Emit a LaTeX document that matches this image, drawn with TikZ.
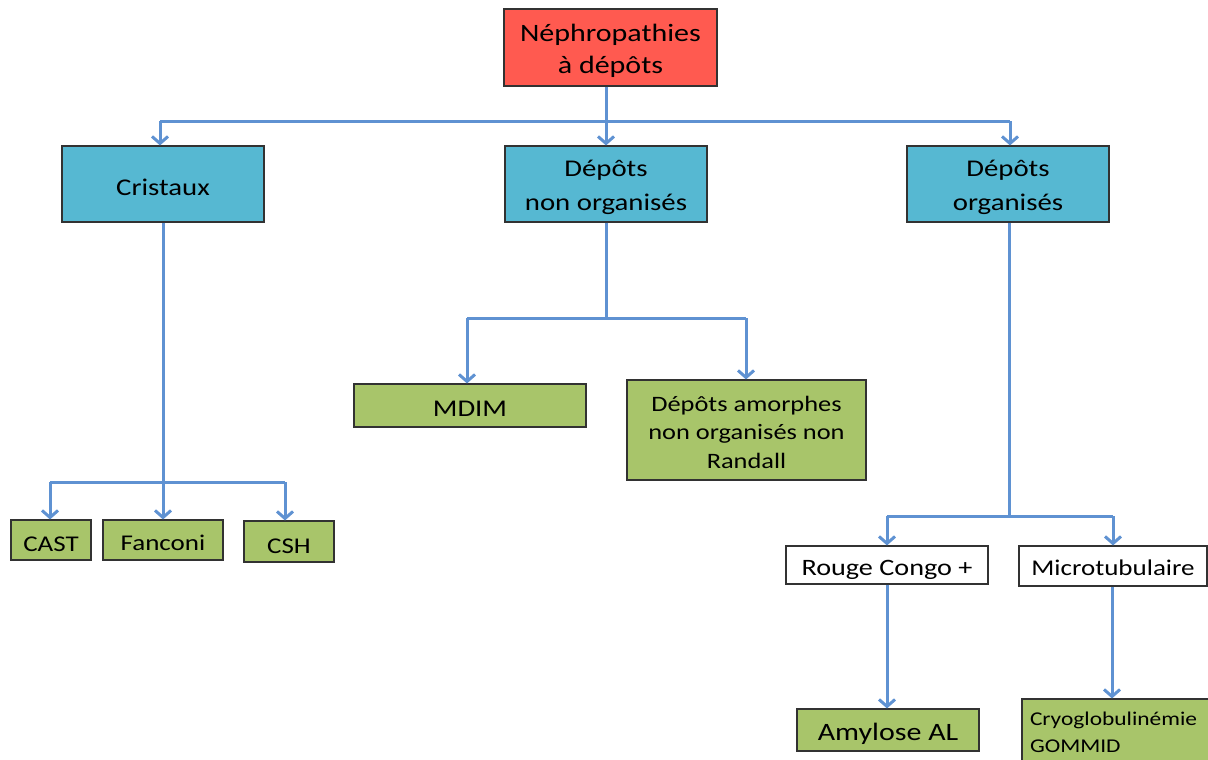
\documentclass[tikz,border=0pt]{standalone}
\usepackage{fontspec}
\setmainfont{Carlito}[FakeStretch=1.2]
\usetikzlibrary{arrows.meta}
\definecolor{lnblue}{RGB}{95,146,210}
\definecolor{rootred}{RGB}{255,90,80}
\definecolor{cyanbox}{RGB}{86,184,210}
\definecolor{greenbox}{RGB}{168,197,106}
\definecolor{edge}{RGB}{50,50,50}
\tikzset{
  box/.style={draw=edge, line width=1.1pt, inner sep=0pt},
  rootbox/.style={box, fill=rootred},
  catbox/.style={box, fill=cyanbox},
  leaf/.style={box, fill=greenbox},
  wbox/.style={box, fill=white},
  tl/.style={align=center, inner sep=0pt, text=black, yshift=-3pt, font=\fontsize{22.5}{26}\selectfont},
  link/.style={draw=lnblue, line width=3pt},
  arr/.style={link, -{Straight Barb[length=7pt,width=16pt,line width=3pt]}},
}
\begin{document}
\begin{tikzpicture}[x=1pt,y=-1pt]
\useasboundingbox (0,0) rectangle (1208,760);
% nodes
\node[rootbox, minimum width=213pt, minimum height=77pt,
  label={[tl, yshift=-0.5pt, font=\fontsize{25}{32}\selectfont]center:{Néphropathies\\à dépôts}}] (root) at (610.5,47.5) {};
\node[catbox, minimum width=202pt, minimum height=76pt,
  label={[tl, font=\fontsize{24}{34}\selectfont]center:{Cristaux}}] (cris) at (163,184) {};
\node[catbox, minimum width=202pt, minimum height=76pt,
  label={[tl, font=\fontsize{24}{34}\selectfont]center:{Dépôts\\non organisés}}] (dno) at (606,184) {};
\node[catbox, minimum width=202pt, minimum height=76pt,
  label={[tl, font=\fontsize{24}{34}\selectfont]center:{Dépôts\\organisés}}] (dorg) at (1008,184) {};
\node[leaf, minimum width=80pt, minimum height=40pt,
  label={[tl, yshift=-1pt]center:{CAST}}] (cast) at (51,540) {};
\node[leaf, minimum width=120pt, minimum height=40pt,
  label={[tl]center:{Fanconi}}] (fanc) at (163,540) {};
\node[leaf, minimum width=90pt, minimum height=41pt,
  label={[tl, yshift=-1.5pt]center:{CSH}}] (csh) at (289,541.5) {};
\node[leaf, minimum width=232pt, minimum height=43pt,
  label={[tl, font=\fontsize{24}{28}\selectfont]center:{MDIM}}] (mdim) at (470,405.5) {};
\node[leaf, minimum width=239pt, minimum height=100pt,
  label={[tl, yshift=1pt, font=\fontsize{22}{28.5}\selectfont]center:{Dépôts amorphes\\non organisés non\\Randall}}] (amor) at (746.5,430) {};
\node[wbox, minimum width=202pt, minimum height=38pt,
  label={[tl, yshift=-2pt, font=\fontsize{23.5}{27}\selectfont]center:{Rouge Congo +}}] (rouge) at (887,565) {};
\node[wbox, minimum width=188pt, minimum height=40pt,
  label={[tl, yshift=1pt]center:{Microtubulaire}}] (micro) at (1113,566) {};
\node[leaf, minimum width=182pt, minimum height=42pt,
  label={[tl, yshift=-1pt, font=\fontsize{25}{29}\selectfont]center:{Amylose AL}}] (amyl) at (888,730) {};
\node[leaf, minimum width=188pt, minimum height=64pt,
  label={[tl, yshift=2pt, align=left, text width=172pt, font=\fontsize{19.5}{27}\selectfont]center:{Cryoglobulinémie\\GOMMID}}] (cryo) at (1116,731) {};
% connectors: top
\coordinate (b0) at (606,121);
\coordinate (bl) at (160,121);
\coordinate (br) at (1010,121);
\draw[link] (root.south -| b0) -- (b0);
\draw[link] (bl) -- (br);
\draw[arr] (bl) -- (cris.north -| bl);
\draw[arr] (b0) -- (dno.north -| b0);
\draw[arr] (br) -- (dorg.north -| br);
% cristaux
\coordinate (c0) at (163,482);
\coordinate (cl) at (50,482);
\coordinate (cr) at (285,482);
\draw[link] (cris.south -| c0) -- (c0);
\draw[link] (cl) -- (cr);
\draw[arr] (cl) -- (cast.north -| cl);
\draw[arr] (c0) -- (fanc.north -| c0);
\draw[arr] (cr) -- (csh.north -| cr);
% non organises
\coordinate (m0) at (606,318);
\coordinate (ml) at (467,318);
\coordinate (mr) at (746,318);
\draw[link] (dno.south -| m0) -- (m0);
\draw[link] (ml) -- (mr);
\draw[arr] (ml) -- (mdim.north -| ml);
\draw[arr] (mr) -- (amor.north -| mr);
% organises
\coordinate (o0) at (1009,516);
\coordinate (ol) at (887,516);
\coordinate (or) at (1113,516);
\coordinate (cx) at (1112,516);
\draw[link] (dorg.south -| o0) -- (o0);
\draw[link] (ol) -- (or);
\draw[arr] (ol) -- (rouge.north -| ol);
\draw[arr] (or) -- (micro.north -| or);
\draw[arr] (rouge.south -| ol) -- (amyl.north -| ol);
\draw[arr] (micro.south -| cx) -- (cryo.north -| cx);
\end{tikzpicture}
\end{document}
